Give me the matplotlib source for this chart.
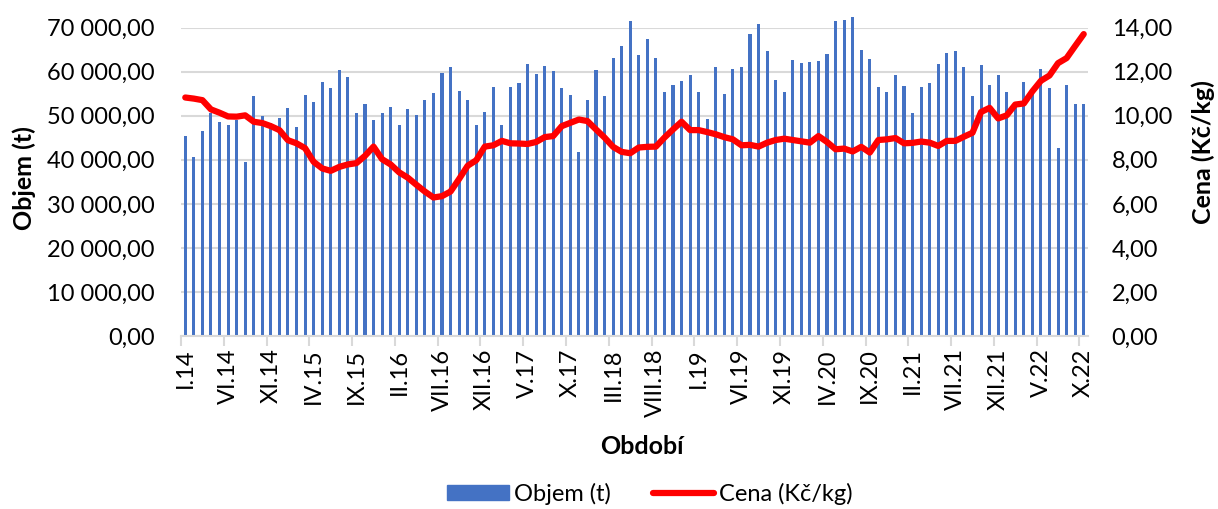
import numpy as np
import matplotlib
matplotlib.use('Agg')
import matplotlib.pyplot as plt
from matplotlib.ticker import FuncFormatter
from matplotlib.patches import Patch
from matplotlib.lines import Line2D

plt.rcParams['font.family'] = ['Lato', 'DejaVu Sans']

# monthly data I.2014 - X.2022
roman = ['I', 'II', 'III', 'IV', 'V', 'VI', 'VII', 'VIII', 'IX', 'X', 'XI', 'XII']
periods = [f'{roman[m]}.{y}' for y in range(14, 23) for m in range(12)][:106]

volume = [45470, 40570, 46450, 50600, 48570, 47960, 48940, 39510, 54380, 49850,
          48340, 49470, 51740, 47430, 54750, 53170, 57620, 56420, 60420, 58750,
          50600, 52700, 49100, 50650, 52000, 47950, 51620, 50120, 53610, 55260,
          59770, 61050, 55710, 53610, 47820, 50900, 56620, 47970, 56620, 57370,
          61730, 59550, 61280, 60230, 56320, 54810, 41880, 53680, 60450, 54510,
          63010, 65790, 71580, 63830, 67440, 63160, 55410, 56990, 57970, 59250,
          55410, 49170, 60980, 54850, 60680, 61050, 68570, 70750, 64810, 58050,
          55340, 62710, 61950, 62110, 62330, 64060, 71430, 71650, 72480, 64890,
          62860, 56470, 55410, 59170, 56770, 50700, 56550, 57500, 61780, 64200,
          64800, 61180, 54560, 61520, 56960, 59230, 55460, 53000, 57720, 55500,
          60700, 56280, 42720, 57040, 52720, 52600]

price = [10.83, 10.78, 10.71, 10.29, 10.14, 9.97, 9.96, 10.02, 9.73, 9.67,
         9.53, 9.35, 8.89, 8.75, 8.53, 7.91, 7.61, 7.50, 7.68, 7.79,
         7.85, 8.18, 8.60, 8.03, 7.79, 7.43, 7.19, 6.87, 6.56, 6.29,
         6.35, 6.56, 7.13, 7.73, 7.98, 8.60, 8.66, 8.86, 8.75, 8.74,
         8.72, 8.81, 9.03, 9.08, 9.53, 9.68, 9.83, 9.76, 9.38, 9.01,
         8.59, 8.36, 8.30, 8.56, 8.59, 8.60, 9.01, 9.38, 9.73, 9.35,
         9.35, 9.26, 9.16, 9.03, 8.93, 8.66, 8.68, 8.60, 8.78, 8.90,
         8.96, 8.90, 8.84, 8.78, 9.08, 8.81, 8.48, 8.51, 8.38, 8.59,
         8.33, 8.90, 8.93, 8.99, 8.75, 8.77, 8.83, 8.78, 8.63, 8.86,
         8.86, 9.05, 9.23, 10.17, 10.36, 9.88, 10.02, 10.51, 10.56, 11.11,
         11.59, 11.83, 12.39, 12.62, 13.17, 13.71]


def cz(v, pos=None):
    return f'{v:,.2f}'.replace(',', ' ').replace('.', ',')


fs = 17
tfs = 18
grid_c = '#D9D9D9'
blue = '#4472C4'
red = '#FF0000'

fig = plt.figure(figsize=(12.18, 5.09), dpi=100)
ax = fig.add_axes([181 / 1218, 1 - 336 / 509, (1088 - 181) / 1218, (336 - 27.7) / 509])

x = np.arange(len(periods))
ax.bar(x, volume, width=0.36, color=blue, zorder=2, clip_on=False)
ax.set_xlim(-0.5, len(periods) - 0.5)
ax.set_ylim(0, 70000)
ax.set_yticks(range(0, 70001, 10000))
ax.yaxis.set_major_formatter(FuncFormatter(cz))
ax.set_axisbelow(True)
ax.grid(axis='y', color=grid_c, lw=1.5)
for s in ['top', 'left', 'right']:
    ax.spines[s].set_visible(False)
ax.spines['bottom'].set_color(grid_c)
ax.spines['bottom'].set_linewidth(1.5)

ax.set_xticks(x[::5])
ax.set_xticklabels(periods[::5], rotation=90, fontsize=fs)
ax.set_xticks(x[::5] - 0.5, minor=True)
ax.tick_params(axis='x', which='major', length=0, pad=9)
ax.tick_params(axis='x', which='minor', length=7, width=1.5, color=grid_c)
ax.tick_params(axis='y', length=0, pad=19, labelsize=fs)

ax2 = ax.twinx()
ax2.plot(x, price, color=red, lw=4.5, solid_joinstyle='round', solid_capstyle='round', zorder=3)
ax2.set_ylim(0, 14)
ax2.set_yticks(range(0, 15, 2))
ax2.yaxis.set_major_formatter(FuncFormatter(cz))
ax2.tick_params(axis='y', length=0, pad=17, labelsize=fs)
for s in ax2.spines.values():
    s.set_visible(False)

fig.text(24 / 1218, 1 - 178 / 509, 'Objem (t)', rotation=90, ha='center', va='center',
         fontsize=tfs, fontweight='bold')
fig.text(1203 / 1218, 1 - 152 / 509, 'Cena (Kč/kg)', rotation=90, ha='center', va='center',
         fontsize=tfs, fontweight='bold')
fig.text(642 / 1218, 1 - 446 / 509, 'Období', ha='center', va='center',
         fontsize=tfs, fontweight='bold')

handles = [Patch(color=blue, label='Objem (t)'),
           Line2D([], [], color=red, lw=4.5, solid_capstyle='round', label='Cena (Kč/kg)')]
fig.legend(handles=handles, loc='center', bbox_to_anchor=(650 / 1218, 1 - 494 / 509),
           ncol=2, frameon=False, fontsize=fs, handlelength=2.6, handleheight=0.6,
           handletextpad=0.2, columnspacing=1.8)

fig.savefig('out.png', dpi=100)
